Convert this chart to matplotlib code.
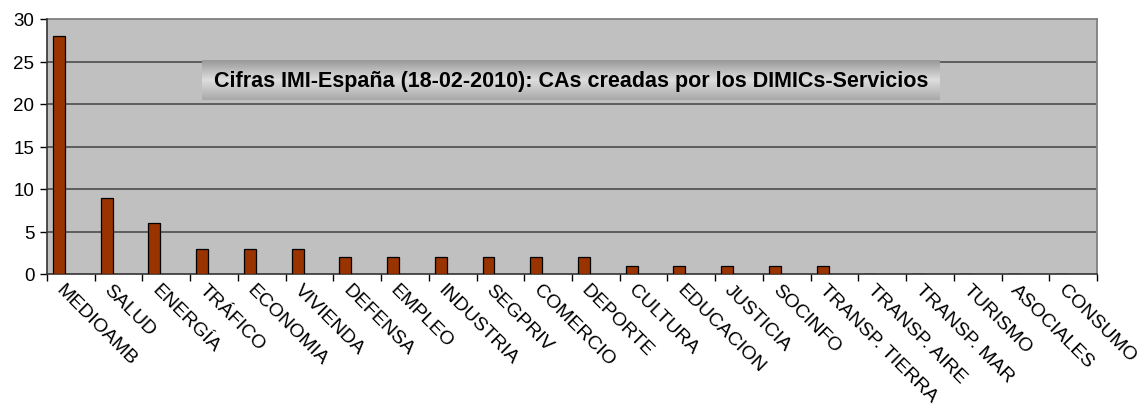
import numpy as np
import matplotlib
matplotlib.use("Agg")
import matplotlib.pyplot as plt
from matplotlib.ticker import FixedLocator, NullFormatter, FixedFormatter

categories = ["MEDIOAMB", "SALUD", "ENERGÍA", "TRÁFICO", "ECONOMIA", "VIVIENDA",
              "DEFENSA", "EMPLEO", "INDUSTRIA", "SEGPRIV", "COMERCIO", "DEPORTE",
              "CULTURA", "EDUCACION", "JUSTICIA", "SOCINFO", "TRANSP. TIERRA",
              "TRANSP. AIRE", "TRANSP. MAR", "TURISMO", "ASOCIALES", "CONSUMO"]
values = [28, 9, 6, 3, 3, 3, 2, 2, 2, 2, 2, 2, 1, 1, 1, 1, 1, 0, 0, 0, 0, 0]
yticks = [0, 5, 10, 15, 20, 25, 30]
title = "Cifras IMI-España (18-02-2010): CAs creadas por los DIMICs-Servicios"

plt.rcParams['font.family'] = ['Liberation Sans', 'DejaVu Sans']

W, H = 1145, 410
fig = plt.figure(figsize=(W/100, H/100), dpi=100)
ax = fig.add_axes([47/W, (H-275)/H, (1097-47)/W, (275-20)/H])
ax.set_facecolor('#C0C0C0')

x = np.arange(len(categories))
ax.bar(x + 0.125, values, width=0.25, align='edge', color='#993300',
       edgecolor='black', linewidth=0.9, zorder=3)

ax.set_xlim(0, len(categories))
ax.set_ylim(0, 30)
ax.set_yticks(yticks)
ax.tick_params(axis='y', labelsize=13.5, length=5, width=1, direction='out', pad=4)
for yv in yticks[1:-1]:
    ax.axhline(yv, color='#555555', linewidth=1.3, zorder=1)

ax.xaxis.set_major_locator(FixedLocator(np.arange(len(categories) + 1)))
ax.xaxis.set_major_formatter(NullFormatter())
ax.xaxis.set_minor_locator(FixedLocator(x + 0.25))
ax.xaxis.set_minor_formatter(FixedFormatter(categories))
ax.tick_params(axis='x', which='major', length=5, width=1, direction='out')
ax.tick_params(axis='x', which='minor', length=0, labelsize=14, pad=9)
for lab in ax.get_xticklabels(minor=True):
    lab.set_rotation(-45)
    lab.set_ha('left')
    lab.set_va('center')
    lab.set_rotation_mode('anchor')

for s in ['top', 'right']:
    ax.spines[s].set_color('#808080')
    ax.spines[s].set_linewidth(1.3)
for s in ['left', 'bottom']:
    ax.spines[s].set_color('#333333')
    ax.spines[s].set_linewidth(1.2)
ax.spines['top'].set_zorder(2)

# title box with vertical gradient
tax = fig.add_axes([202/W, (H-101)/H, (940-202)/W, 40/H])
grad = np.concatenate([np.linspace(0.60, 0.86, 20), np.linspace(0.86, 0.66, 20)])
tax.imshow(grad[:, None], aspect='auto', cmap='gray', vmin=0, vmax=1,
           extent=[0, 1, 0, 1], origin='upper')
tax.set_axis_off()
tax.text(0.5, 0.48, title, ha='center', va='center', fontsize=15.5,
         fontweight='bold', color='black', transform=tax.transAxes)

fig.savefig('out.png', dpi=100, facecolor='white')
